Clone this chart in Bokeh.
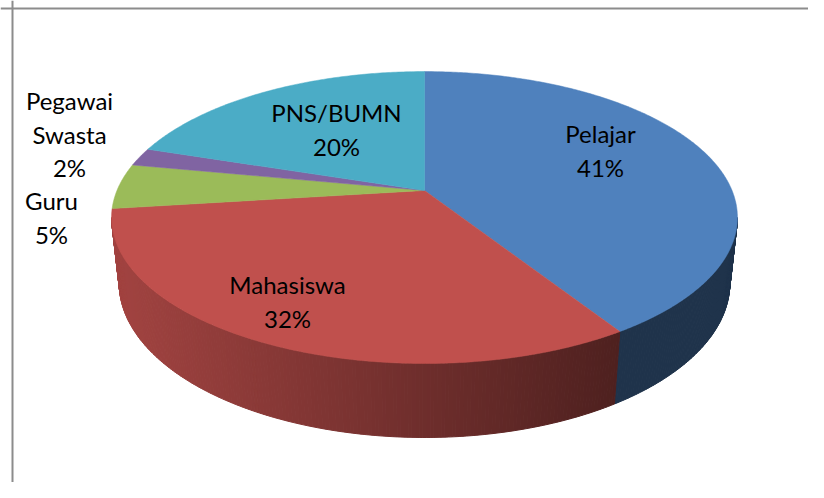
import numpy as np
from bokeh.plotting import figure
from bokeh.models import Range1d, Span
from bokeh.core.properties import value
from bokeh.embed import file_html
from bokeh.resources import INLINE

# ---- data ----
categories = ["Pelajar", "Mahasiswa", "Guru", "Pegawai Swasta", "PNS/BUMN"]
values = [41, 32, 5, 2, 20]
colors = ["#4f81bd", "#c0504d", "#9bbb59", "#8064a2", "#4bacc6"]
label_lines = [["Pelajar"], ["Mahasiswa"], ["Guru"], ["Pegawai", "Swasta"], ["PNS/BUMN"]]

# ---- layout / style (not data) ----
LABEL_POS = [(600, 133), (287, 284), (51, 200), (69, 100), (336, 112)]  # first baseline
LINE_GAP = 33.5
SIN_A, COS_A = 0.466, 0.885
DIST = 4.78
THICK = 0.2475
CX, CY = 424, 190
SXS, SYS = 1470, 1446

def project(phi, y=0.0):
    X = np.cos(phi)
    Z = np.sin(phi)
    depth = DIST - y * SIN_A - Z * COS_A
    up = y * COS_A - Z * SIN_A
    return CX + SXS * X / depth, CY - SYS * up / depth

def hex_to_rgb(h):
    h = h.lstrip("#")
    return tuple(int(h[i:i + 2], 16) for i in (0, 2, 4))

def shade(h, f):
    r, g, b = hex_to_rgb(h)
    return "#%02x%02x%02x" % (int(r * f), int(g * f), int(b * f))

p = figure(width=808, height=482, output_backend="svg", toolbar_location=None,
           x_range=Range1d(0, 808), y_range=Range1d(482, 0), min_border=0)
p.axis.visible = False
p.grid.visible = False
p.outline_line_color = None
p.background_fill_color = "white"

total = float(sum(values))
fr = np.cumsum([0] + values) / total
angles = -np.pi / 2 + 2 * np.pi * fr

phi_r = np.arcsin(COS_A / DIST)
phi_l = np.pi - phi_r

# side walls
wx, wy, wc = [], [], []
for i, col in enumerate(colors):
    a0, a1 = max(angles[i], phi_r), min(angles[i + 1], phi_l)
    if a1 <= a0:
        continue
    n = max(2, int((a1 - a0) / 0.01))
    ts = np.linspace(a0, a1, n + 1)
    for k in range(n):
        t0, t1 = ts[k], ts[k + 1]
        x0, y0 = project(t0)
        x1, y1 = project(t1)
        x2, y2 = project(t1, -THICK)
        x3, y3 = project(t0, -THICK)
        xm = (x0 + x1) / 2
        if i == 0:
            f = 0.40
        else:
            f = 0.84 - 0.00086 * (xm - 118)
        f = min(max(f, 0.3), 1.0)
        wx.append([x0, x1, x2, x3])
        wy.append([y0, y1, y2, y3])
        wc.append(shade(col, f))
p.patches(wx, wy, fill_color=wc, line_color=wc, line_width=1)

# top faces
tx, ty = [], []
for i in range(len(values)):
    ts = np.linspace(angles[i], angles[i + 1], max(3, int((angles[i + 1] - angles[i]) / 0.01)))
    xs, ys = project(ts)
    tx.append([CX] + list(xs))
    ty.append([CY] + list(ys))
p.patches(tx, ty, fill_color=colors, line_color=colors, line_width=0.5)

# labels
lx, ly, lt = [], [], []
for i, lines in enumerate(label_lines):
    pct = "%d%%" % round(values[i] / total * 100)
    bx, by = LABEL_POS[i]
    for j, s in enumerate(lines + [pct]):
        lx.append(bx)
        ly.append(by + j * LINE_GAP)
        lt.append(s)
p.text(lx, ly, text=lt, text_font=value("Lato"), text_font_size="24px",
       text_align="center", text_baseline="alphabetic", text_color="#000000")

# chart border
p.add_layout(Span(location=12, dimension="height", line_color="#8c8c8c", line_width=2))
p.add_layout(Span(location=8, dimension="width", line_color="#8c8c8c", line_width=2))

open("out.html", "w").write(file_html(p, INLINE))
